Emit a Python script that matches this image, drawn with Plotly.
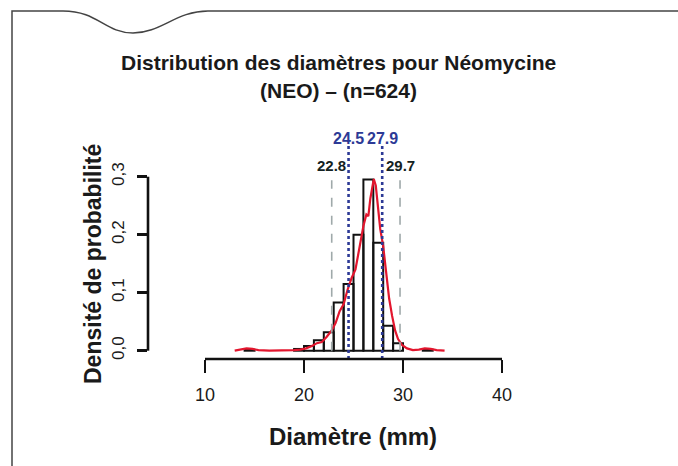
import plotly.graph_objects as go

# ---------------- data ----------------
bin_left = [14, 19, 20, 21, 22, 23, 24, 25, 26, 27, 28, 29, 32]
bin_density = [0.0016, 0.003, 0.008, 0.018, 0.032, 0.083, 0.115, 0.200, 0.295, 0.186, 0.043, 0.013, 0.0016]
bin_width = 1.0

kde_x = [13.0, 13.6, 14.2, 14.8, 15.4, 16.5, 18.0, 19.0, 19.6, 20.2, 20.8, 21.3, 21.8, 22.3, 22.8,
         23.2, 23.6, 24.0, 24.4, 24.8, 25.2, 25.5, 25.8, 26.0, 26.3, 26.5, 26.7, 26.9, 27.05, 27.25,
         27.45, 27.7, 28.0, 28.3, 28.6, 28.9, 29.2, 29.5, 29.9, 30.4, 31.0, 31.6, 32.2, 32.8, 33.4, 34.2]
kde_y = [0.000, 0.002, 0.004, 0.003, 0.001, 0.000, 0.000, 0.001, 0.002, 0.004, 0.008, 0.013, 0.015, 0.024, 0.035,
         0.048, 0.068, 0.080, 0.105, 0.125, 0.140, 0.170, 0.195, 0.215, 0.235, 0.232, 0.262, 0.285, 0.296, 0.285,
         0.245, 0.210, 0.180, 0.135, 0.090, 0.060, 0.035, 0.020, 0.010, 0.004, 0.001, 0.002, 0.004, 0.003, 0.001, 0.000]

outer_lines = [22.8, 29.7]     # grey dashed
inner_lines = [24.5, 27.9]     # blue dotted

x_ticks = [10, 20, 30, 40]
y_ticks = [0.0, 0.1, 0.2, 0.3]

title_line1 = "Distribution des diamètres pour Néomycine"
title_line2 = "(NEO) – (n=624)"
x_title = "Diamètre (mm)"
y_title = "Densité de probabilité"

# ---------------- layout geometry ----------------
W, H = 678, 466
L, R, T, B = 148, 158, 130, 107
pw, ph = W - L - R, H - T - B
xr = [10 - 57 / 9.9, 40 + 18 / 9.9]
yr = [-8.3 / 580, 0.3 + 46.7 / 580]

def px(xpix):
    return (xpix - L) / pw

def py(ypix):
    return (H - B - ypix) / ph

def dx(v):
    return (v - xr[0]) / (xr[1] - xr[0])

def dy(v):
    return (v - yr[0]) / (yr[1] - yr[0])

FONT = "Liberation Sans"

fig = go.Figure()

centers = [b + bin_width / 2 for b in bin_left]
fig.add_trace(go.Bar(x=centers, y=bin_density, width=bin_width,
                     marker=dict(color="rgba(0,0,0,0)", line=dict(color="#111111", width=2)),
                     hoverinfo="skip"))

fig.add_trace(go.Scatter(x=kde_x, y=kde_y, mode="lines",
                         line=dict(color="#e3162e", width=2.2), hoverinfo="skip"))

shapes = []
for v in outer_lines:
    shapes.append(dict(type="line", xref="x", yref="y", x0=v, x1=v, y0=0.0, y1=0.294,
                       line=dict(color="#9fa9aa", width=1.6, dash="dash"), layer="above"))
for v in inner_lines:
    shapes.append(dict(type="line", xref="x", yref="y", x0=v, x1=v, y0=yr[0], y1=0.357,
                       line=dict(color="#2d3a96", width=2.6, dash="dot"), layer="above"))

# R-style axis lines spanning only the tick range
shapes.append(dict(type="line", xref="paper", yref="paper", x0=dx(x_ticks[0]), x1=dx(x_ticks[-1]),
                   y0=0, y1=0, line=dict(color="#111111", width=2.6)))
shapes.append(dict(type="line", xref="paper", yref="paper", x0=0, x1=0,
                   y0=dy(y_ticks[0]), y1=dy(y_ticks[-1]), line=dict(color="#111111", width=2.6)))

# frame with wavy notch
frame = (f"M {px(12)} {py(470)} L {px(12)} {py(11)} L {px(63)} {py(11)} "
         f"C {px(98)} {py(11)} {px(105)} {py(33)} {px(133)} {py(33)} "
         f"C {px(161)} {py(33)} {px(176)} {py(11)} {px(208)} {py(11)} L {px(680)} {py(11)}")
shapes.append(dict(type="path", xref="paper", yref="paper", path=frame,
                   line=dict(color="#444444", width=1.5)))

annotations = [
    dict(text=f"<b>{title_line1}</b>", x=px(338), y=py(62), xref="paper", yref="paper",
         showarrow=False, font=dict(family=FONT, size=21, color="#1a1a1a"), xanchor="center", yanchor="middle"),
    dict(text=f"<b>{title_line2}</b>", x=px(338), y=py(91), xref="paper", yref="paper",
         showarrow=False, font=dict(family=FONT, size=21, color="#1a1a1a"), xanchor="center", yanchor="middle"),
    dict(text=f"<b>{x_title}</b>", x=px(353), y=py(436), xref="paper", yref="paper",
         showarrow=False, font=dict(family=FONT, size=24, color="#1a1a1a"), xanchor="center", yanchor="middle"),
    dict(text=f"<b>{y_title}</b>", x=px(93), y=py(264), xref="paper", yref="paper", textangle=-90,
         showarrow=False, font=dict(family=FONT, size=23, color="#1a1a1a"), xanchor="center", yanchor="middle"),
]
for v in outer_lines:
    annotations.append(dict(text=f"<b>{v:.1f}</b>", x=v, y=py(165), xref="x", yref="paper", showarrow=False,
                            font=dict(family=FONT, size=15, color="#142222"),
                            xanchor="center", yanchor="middle"))
for v in inner_lines:
    annotations.append(dict(text=f"<b>{v:.1f}</b>", x=v, y=py(138), xref="x", yref="paper", showarrow=False,
                            font=dict(family=FONT, size=16, color="#2d3a96"),
                            xanchor="center", yanchor="middle"))

fig.update_layout(
    width=W, height=H,
    margin=dict(l=L, r=R, t=T, b=B, pad=0),
    paper_bgcolor="white", plot_bgcolor="white",
    showlegend=False,
    separators=", ",
    bargap=0,
    shapes=shapes,
    annotations=annotations,
    xaxis=dict(range=xr, tickvals=x_ticks, ticktext=[str(t) for t in x_ticks],
               showgrid=False, zeroline=False, showline=False,
               ticks="outside", ticklen=13, tickwidth=2.6, tickcolor="#111111",
               tickfont=dict(family=FONT, size=18, color="#1a1a1a"), ticklabelstandoff=6),
    yaxis=dict(range=yr, tickvals=y_ticks, tickformat=".1f",
               showgrid=False, zeroline=False, showline=False,
               ticks="outside", ticklen=10, tickwidth=2.6, tickcolor="#111111", tickangle=-90,
               tickfont=dict(family=FONT, size=17, color="#1a1a1a"), ticklabelstandoff=6),
)

fig.write_html("out.html", config={"displayModeBar": False, "staticPlot": True},
               post_script="document.body.style.margin='0px';document.body.style.overflow='hidden';")
